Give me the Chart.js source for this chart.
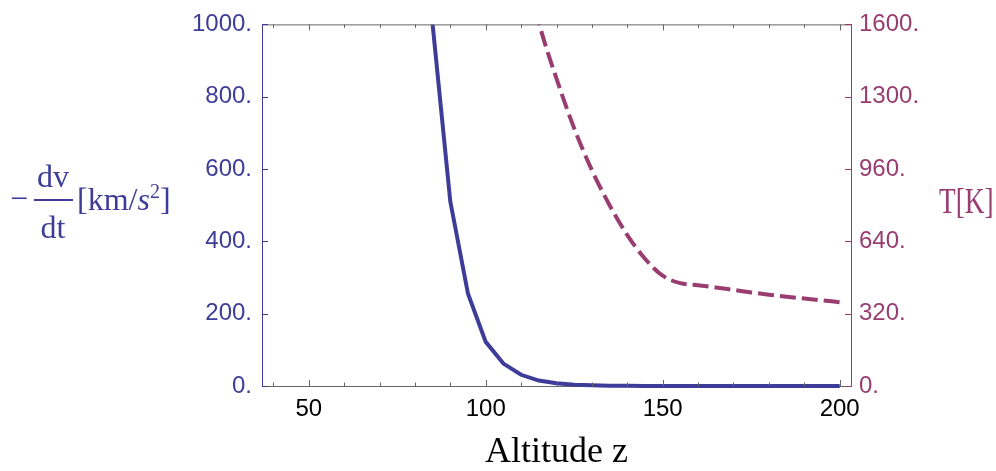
<!DOCTYPE html>
<html>
<head>
<meta charset="utf-8">
<script src="https://cdn.jsdelivr.net/npm/chart.js@4/dist/chart.umd.min.js"></script>
<style>
  html, body { margin: 0; padding: 0; background: #fff; }
  #wrap { width: 996px; height: 471px; position: relative; }
</style>
</head>
<body>
<div id="wrap"><canvas id="decel"></canvas></div>
<script>
// Altitude in km
const altitudes = [80, 85, 90, 95, 100, 105, 110, 115, 120, 125, 130, 135, 140, 145, 150,
  155, 160, 165, 170, 175, 180, 185, 190, 195, 200]
// deceleration -dv/dt [km/s^2]
const decel = [2000, 1000, 510, 255, 122, 62, 31, 15, 7.5, 3.7, 1.8, 0.9, 0.4, 0.2, 0.1,
  0.05, 0, 0, 0, 0, 0, 0, 0, 0, 0]

const tempAltitudes = [110, 115, 120, 125, 130, 135, 140, 145, 150, 155, 160, 165, 170,
  175, 180, 185, 190, 195, 200]
// temperature T [K]
const temperature = [1950, 1610, 1360, 1140, 955, 800, 668, 563, 488, 455, 446, 436, 425,
  414, 404, 395, 387, 379, 371]

const xMajorTicks = [50, 100, 150, 200]
const xMinorTicks = [40, 60, 70, 80, 90, 110, 120, 130, 140, 160, 170, 180, 190]
const leftTicks = [0, 200, 400, 600, 800, 1000]
const rightTicks = [0, 320, 640, 960, 1280, 1600]
const rightTickLabels = ['0.', '320.', '640.', '960.', '1300.', '1600.']

const BLUE = '#3d3d99'
const PURPLE = '#993d71'
const FRAME = '#666666'
const tickFont = { family: '"Liberation Sans", Arial, sans-serif', size: 24 }
const serif = '"Liberation Serif", "Times New Roman", serif'

// inward ticks, top frame line and the two horizontal axis titles
const framePlugin = {
  id: 'frame',
  afterDraw(chart) {
    const { ctx, chartArea: a } = chart
    const xs = chart.scales.x, yl = chart.scales.y, yr = chart.scales.y1
    ctx.save()
    ctx.lineWidth = 1
    ctx.strokeStyle = FRAME
    ctx.beginPath()
    ctx.moveTo(a.left, a.top + 0.5)
    ctx.lineTo(a.right, a.top + 0.5)
    ctx.stroke()

    const drawX = (vals, len) => {
      vals.forEach(v => {
        const px = Math.round(xs.getPixelForValue(v)) + 0.5
        ctx.beginPath()
        ctx.moveTo(px, a.bottom); ctx.lineTo(px, a.bottom - len)
        ctx.moveTo(px, a.top); ctx.lineTo(px, a.top + len)
        ctx.stroke()
      })
    }
    drawX(xMajorTicks, 6)
    drawX(xMinorTicks, 3.5)

    ctx.strokeStyle = BLUE
    leftTicks.forEach(v => {
      const py = Math.round(yl.getPixelForValue(v)) + 0.5
      ctx.beginPath(); ctx.moveTo(a.left, py); ctx.lineTo(a.left + 6, py); ctx.stroke()
    })
    ctx.strokeStyle = PURPLE
    rightTicks.forEach(v => {
      const py = Math.round(yr.getPixelForValue(v)) + 0.5
      ctx.beginPath(); ctx.moveTo(a.right, py); ctx.lineTo(a.right - 6, py); ctx.stroke()
    })

    // left title: - dv/dt [km/s^2]
    ctx.fillStyle = BLUE
    ctx.textBaseline = 'alphabetic'
    ctx.font = '32px ' + serif
    ctx.textAlign = 'center'
    ctx.fillText('\u2212', 19, 209)
    ctx.fillText('dv', 53, 187)
    ctx.fillText('dt', 53, 238)
    ctx.fillRect(34, 199, 39, 2)
    ctx.textAlign = 'left'
    let x = 77
    const part = (txt, font, dy) => {
      ctx.font = font
      ctx.fillText(txt, x, 210 + dy)
      x += ctx.measureText(txt).width
    }
    part('[km/', '32px ' + serif, 0)
    part('s', 'italic 32px ' + serif, 0)
    part('2', '20px ' + serif, -12)
    part(']', '32px ' + serif, 0)

    // right title: T[K]
    ctx.fillStyle = PURPLE
    ctx.font = '35px ' + serif
    ctx.translate(939, 213)
    ctx.scale(0.78, 1)
    ctx.fillText('T[K]', 0, 0)
    ctx.restore()
  }
}

new Chart(document.getElementById('decel'), {
  type: 'line',
  data: {
    datasets: [{
      label: '-dv/dt',
      data: altitudes.map((a, i) => ({ x: a, y: decel[i] })),
      borderColor: BLUE,
      borderWidth: 4,
      pointRadius: 0,
      tension: 0,
      yAxisID: 'y',
      clip: { left: 2, right: 2, top: 0, bottom: 3 }
    }, {
      label: 'T',
      data: tempAltitudes.map((a, i) => ({ x: a, y: temperature[i] })),
      borderColor: PURPLE,
      borderWidth: 4,
      borderDash: [16, 6],
      borderCapStyle: 'butt',
      pointRadius: 0,
      cubicInterpolationMode: 'monotone',
      yAxisID: 'y1',
      clip: { left: 2, right: 2, top: 0, bottom: 3 }
    }]
  },
  options: {
    responsive: true,
    maintainAspectRatio: false,
    animation: false,
    events: [],
    layout: { padding: { top: 20, left: 0, right: 0, bottom: 0 } },
    plugins: {
      legend: { display: false },
      tooltip: { enabled: false }
    },
    scales: {
      x: {
        type: 'linear',
        position: 'bottom',
        min: 36.8,
        max: 203.2,
        afterBuildTicks: s => { s.ticks = xMajorTicks.map(v => ({ value: v })) },
        afterFit: s => { s.height = 85 },
        grid: { display: false, drawTicks: false },
        border: { display: true, color: FRAME, width: 1 },
        ticks: { color: '#000', font: tickFont, padding: 9, maxRotation: 0 },
        title: {
          display: true,
          text: 'Altitude z',
          color: '#000',
          font: { family: serif, size: 36 },
          padding: { top: 0, bottom: -3 }
        }
      },
      y: {
        type: 'linear',
        position: 'left',
        min: 0,
        max: 1000,
        afterBuildTicks: s => { s.ticks = leftTicks.map(v => ({ value: v })) },
        afterFit: s => { s.width = 262 },
        grid: { display: false, drawTicks: false },
        border: { display: true, color: BLUE, width: 1 },
        ticks: { color: BLUE, font: tickFont, padding: 10, callback: v => v + '.' }
      },
      y1: {
        type: 'linear',
        position: 'right',
        min: 0,
        max: 1600,
        afterBuildTicks: s => { s.ticks = rightTicks.map(v => ({ value: v })) },
        afterFit: s => { s.width = 145 },
        grid: { display: false, drawTicks: false },
        border: { display: true, color: PURPLE, width: 1 },
        ticks: {
          color: PURPLE,
          font: tickFont,
          padding: 8,
          callback: (v, i) => rightTickLabels[i]
        }
      }
    }
  },
  plugins: [framePlugin]
})
</script>
</body>
</html>
